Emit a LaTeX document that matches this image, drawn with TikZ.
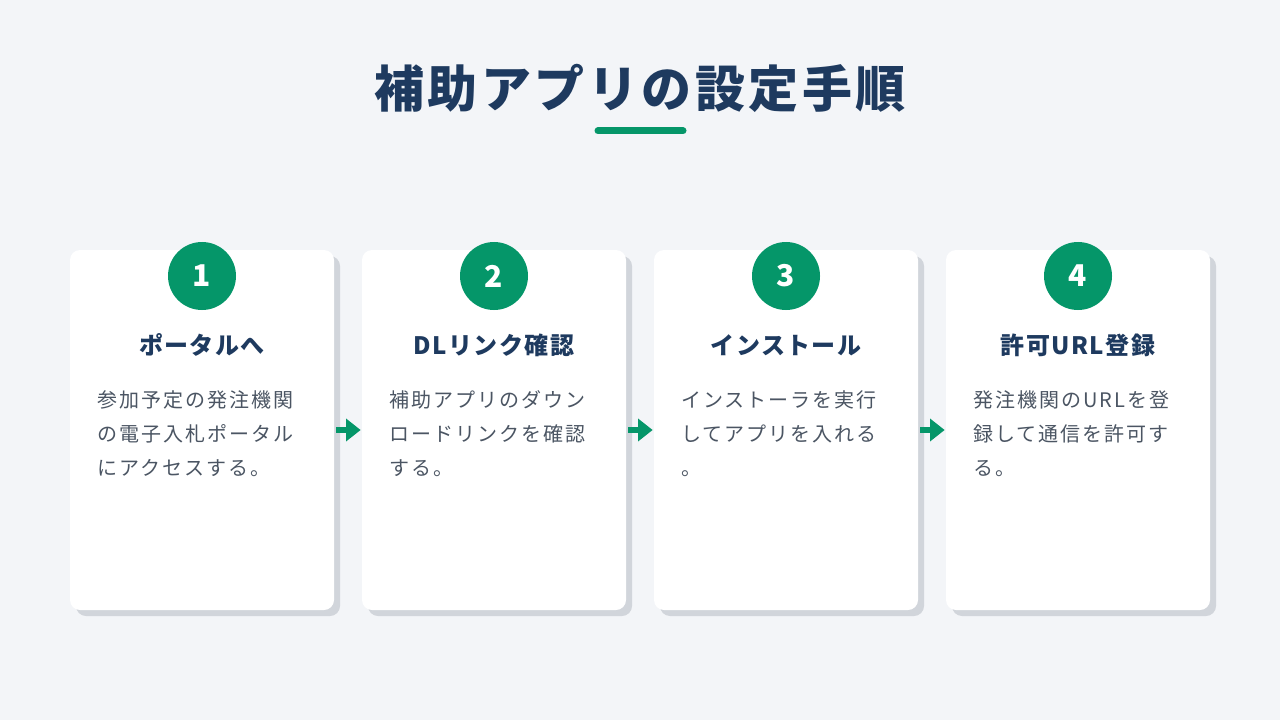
\documentclass[tikz,border=0pt]{standalone}
\usepackage{fontspec}
\setmainfont{Noto Sans CJK JP}
\newfontfamily\bodyf[LetterSpace=10]{Noto Sans CJK JP}
\newfontfamily\headf[LetterSpace=6]{Noto Sans CJK JP}
\newfontfamily\titlef[LetterSpace=7]{Noto Sans CJK JP}
\usetikzlibrary{arrows.meta,shadows}
\definecolor{bg}{HTML}{F3F5F8}
\definecolor{navy}{HTML}{1E3A5F}
\definecolor{grn}{HTML}{059669}
\definecolor{bodyc}{HTML}{4B5563}
\definecolor{shadowc}{HTML}{D1D5DB}
\tikzset{
  card/.style={rectangle, rounded corners=7.5pt, fill=white, minimum width=198pt, minimum height=270pt, inner sep=0pt,
    copy shadow={shadow xshift=4.5pt, shadow yshift=-4.5pt, fill=shadowc, opacity=1, draw=none}},
  num/.style={circle, fill=grn, minimum size=51pt, inner sep=0pt, text=white, font={\fontsize{22.5}{26}\selectfont\bfseries}},
  head/.style={text=navy, inner sep=0pt, font={\headf\fontsize{18}{22}\selectfont\bfseries}},
  body/.style={text=bodyc, inner sep=0pt, align=left, anchor=north west, font={\bodyf\fontsize{15}{25.5}\selectfont}},
  flow/.style={grn, line width=4.5pt, -{Triangle[length=11pt,width=16.5pt]}, shorten <=1.5pt, shorten >=0.8pt},
}
\begin{document}
\begin{tikzpicture}[x=0.75pt,y=-0.75pt]
\useasboundingbox (0,0) rectangle (1280,720);
\fill[bg] (0,0) rectangle (1280,720);
\node[text=navy, inner sep=0pt, font={\titlef\fontsize{37.5}{44}\selectfont\bfseries}] (title) at (640,88) {補助アプリの設定手順};
\coordinate (u1) at (598,131);
\coordinate (u2) at (683,131);
\draw[grn, line width=5.25pt, line cap=round] (u1) -- (u2);

\node[card] (c1) at (202,430) {};
\node[card] (c2) at (494,430) {};
\node[card] (c3) at (786,430) {};
\node[card] (c4) at (1078,430) {};

\node[num] (n1) at (202,276) {1};
\node[num] (n2) at (494,276) {2};
\node[num] (n3) at (786,276) {3};
\node[num] (n4) at (1078,276) {4};

\node[head] (h1) at (202,345) {ポータルへ};
\node[head] (h2) at (494,345) {DLリンク確認};
\node[head] (h3) at (786,345) {インストール};
\node[head] (h4) at (1078,345) {許可URL登録};

\node[body] (b1) at (97,390) {参加予定の発注機関\\の電子入札ポータル\\にアクセスする。};
\node[body] (b2) at (389,390) {補助アプリのダウン\\ロードリンクを確認\\する。};
\node[body] (b3) at (681,390) {インストーラを実行\\してアプリを入れる\\。};
\node[body] (b4) at (973,390) {発注機関のURLを登\\録して通信を許可す\\る。};

\draw[flow] (c1.east) -- (c2.west);
\draw[flow] (c2.east) -- (c3.west);
\draw[flow] (c3.east) -- (c4.west);
\end{tikzpicture}
\end{document}
